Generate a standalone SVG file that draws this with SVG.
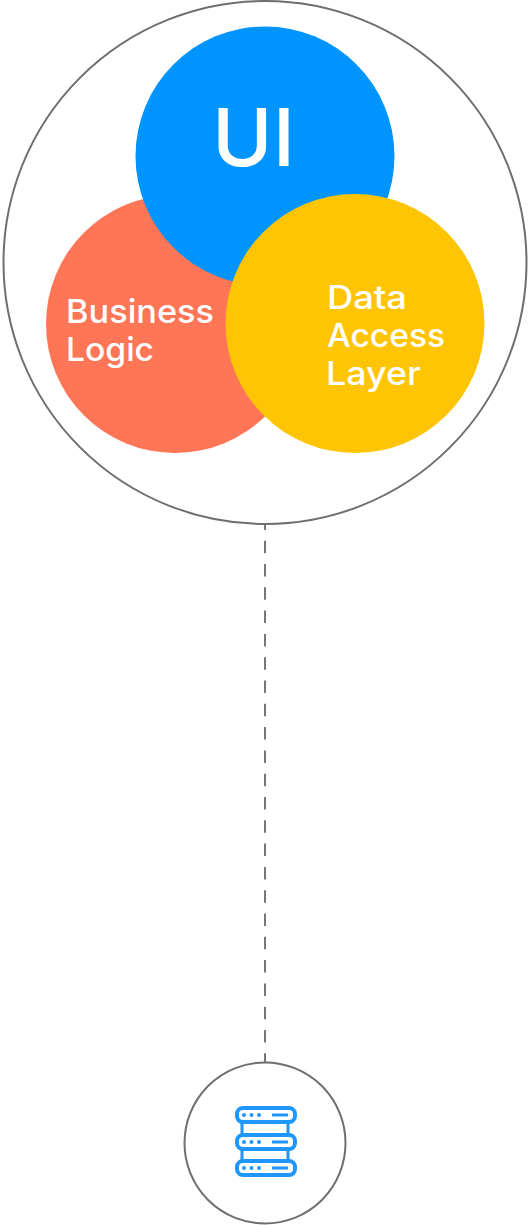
<svg xmlns="http://www.w3.org/2000/svg" width="528" height="1225" viewBox="0 0 528 1225">
<style>
.ring{fill:#fff;stroke:#6e6e6e;stroke-width:2}
.lab{font-family:"Inter","Noto Sans",sans-serif;fill:#fff;font-size:33px;font-weight:500}
.ic{fill:#fff;stroke:#1e96fa;stroke-width:4}
.link{fill:#fff;stroke:#1e96fa;stroke-width:3}
.ict{fill:none;stroke:#1e96fa;stroke-width:3}
.dot{fill:#1e96fa}
</style>
<rect width="528" height="1225" fill="#fff"/>
<g id="connectors"><line x1="265" y1="517.400" x2="265" y2="1062" stroke="#777" stroke-width="2" stroke-dasharray="12.500 10.800"/></g>
<g id="app"><circle class="ring" cx="265" cy="262.500" r="261.500"/></g>
<g id="business-logic"><circle cx="175" cy="324" r="129" fill="#ff7657"/><text class="lab" x="66" y="323" textLength="148" lengthAdjust="spacingAndGlyphs">Business</text><text class="lab" x="66" y="361" textLength="88" lengthAdjust="spacingAndGlyphs">Logic</text></g>
<g id="ui"><circle cx="265" cy="156" r="129.500" fill="#0094ff"/><text class="lab" style="font-size:80px" x="212" y="166" textLength="83" lengthAdjust="spacingAndGlyphs">UI</text></g>
<g id="data-access"><circle cx="355" cy="323.500" r="129.500" fill="#ffc404"/><text class="lab" x="327" y="309" textLength="80" lengthAdjust="spacingAndGlyphs">Data</text><text class="lab" x="327" y="347" textLength="118" lengthAdjust="spacingAndGlyphs">Access</text><text class="lab" x="326" y="385" textLength="95" lengthAdjust="spacingAndGlyphs">Layer</text></g>
<g id="database"><circle class="ring" cx="265" cy="1143" r="80.500"/>
<rect class="link" x="242" y="1121" width="46" height="15"/><rect class="link" x="242" y="1147" width="46" height="15"/>
<rect class="ic" x="237" y="1108" width="58" height="14" rx="6"/><rect class="ic" x="237" y="1135" width="58" height="14" rx="6"/><rect class="ic" x="237" y="1161" width="58" height="14" rx="6"/>
<circle class="dot" cx="244" cy="1115" r="2"/><circle class="dot" cx="251.500" cy="1115" r="2"/><circle class="dot" cx="259" cy="1115" r="2"/>
<circle class="dot" cx="244" cy="1142" r="2"/><circle class="dot" cx="251.500" cy="1142" r="2"/><circle class="dot" cx="259" cy="1142" r="2"/>
<circle class="dot" cx="244" cy="1168" r="2"/><circle class="dot" cx="251.500" cy="1168" r="2"/><circle class="dot" cx="259" cy="1168" r="2"/>
<path class="ict" d="M272 1115h16M272 1142h16M272 1168h16"/>
</g>
</svg>
